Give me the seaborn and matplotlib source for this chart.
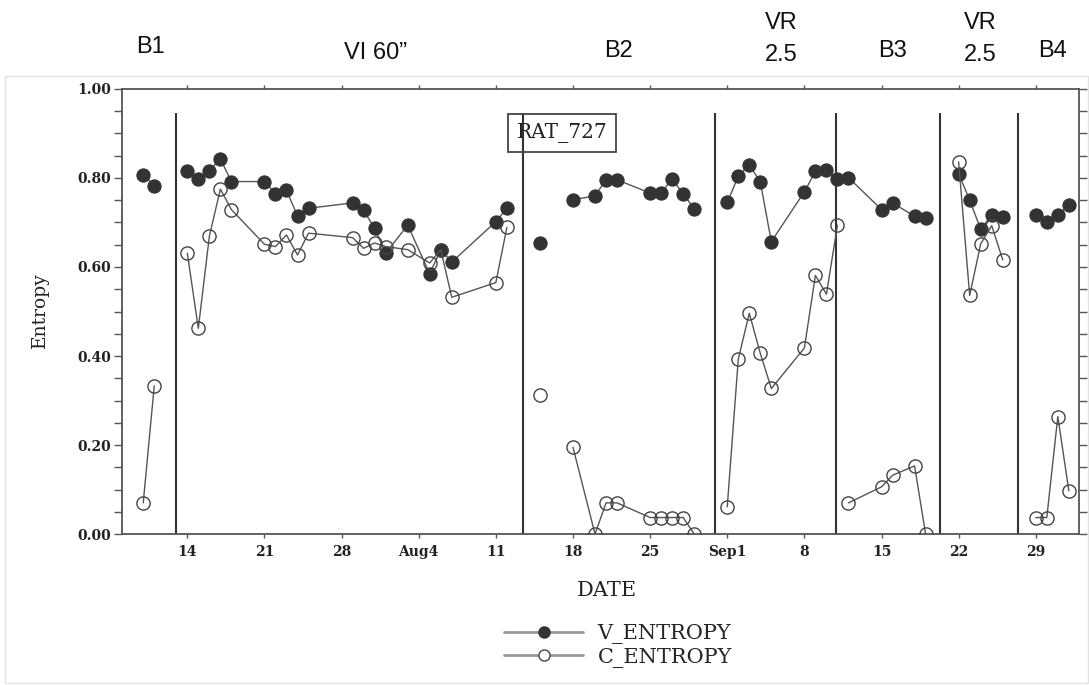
import numpy as np
import pandas as pd
import matplotlib
matplotlib.use("Agg")
import matplotlib.pyplot as plt
from matplotlib.lines import Line2D
from matplotlib.patches import Rectangle
import seaborn as sns

# ---- data (x = days since July 14) ----
days = [-4, -3,
        0, 1, 2, 3, 4, 7, 8, 9, 10, 11, 15, 16, 17, 18, 20, 22, 23, 24, 28, 29,
        32,
        35, 37, 38, 39, 42, 43, 44, 45, 46,
        49, 50, 51, 52, 53, 56, 57, 58, 59,
        60, 63, 64, 66, 67,
        70, 71, 72, 73, 74,
        77, 78, 79, 80]
segment = [0, 0,
           1, 1, 1, 1, 1, 1, 1, 1, 1, 1, 1, 1, 1, 1, 1, 1, 1, 1, 1, 1,
           2,
           3, 3, 3, 3, 3, 3, 3, 3, 3,
           4, 4, 4, 4, 4, 4, 4, 4, 4,
           5, 5, 5, 5, 5,
           6, 6, 6, 6, 6,
           7, 7, 7, 7]
v_entropy = [0.807, 0.783,
             0.816, 0.797, 0.816, 0.843, 0.792, 0.792, 0.765, 0.772, 0.715, 0.732,
             0.744, 0.727, 0.687, 0.631, 0.694, 0.585, 0.639, 0.611, 0.702, 0.732,
             0.655,
             0.751, 0.760, 0.796, 0.796, 0.766, 0.766, 0.798, 0.764, 0.731,
             0.745, 0.804, 0.830, 0.791, 0.657, 0.769, 0.815, 0.817, 0.798,
             0.801, 0.729, 0.744, 0.714, 0.710,
             0.810, 0.750, 0.685, 0.717, 0.712,
             0.716, 0.700, 0.716, 0.739]
c_entropy = [0.070, 0.333,
             0.631, 0.462, 0.669, 0.775, 0.729, 0.651, 0.646, 0.672, 0.627, 0.676,
             0.666, 0.642, 0.654, 0.646, 0.639, 0.609, 0.639, 0.532, 0.565, 0.689,
             0.312,
             0.195, 0.000, 0.070, 0.070, 0.037, 0.037, 0.037, 0.037, 0.000,
             0.061, 0.393, 0.496, 0.406, 0.327, 0.418, 0.581, 0.539, 0.694,
             0.070, 0.106, 0.132, 0.153, 0.000,
             0.836, 0.536, 0.652, 0.693, 0.616,
             0.037, 0.037, 0.264, 0.097]

tick_days = [0, 7, 14, 21, 28, 35, 42, 49, 56, 63, 70, 77]
tick_labels = ["14", "21", "28", "Aug4", "11", "18", "25", "Sep1", "8", "15", "22", "29"]
phase_lines = [-1.0, 30.5, 47.9, 58.9, 68.3, 75.4]
phase_names = ["B1", "VI 60\u201d", "B2", "VR", "2.5", "B3", "VR", "2.5", "B4"]

df = pd.DataFrame({"day": days, "seg": segment, "V": v_entropy, "C": c_entropy})

sns.set_style("ticks")
plt.rcParams["font.family"] = ["DejaVu Serif"]

fig = plt.figure(figsize=(10.89, 6.85), dpi=100)
fig.patches.append(Rectangle((0.0046, 0.003), 0.9945, 0.886, transform=fig.transFigure,
                             fill=False, edgecolor="#e2e2e2", linewidth=1.0, zorder=0))
ax = fig.add_axes([0.1120, 0.2204, 0.8788, 0.6497])

# phase boundary lines
ax.vlines(phase_lines, 0, 0.945, color="#333333", linewidth=1.5, zorder=1)

sns.lineplot(data=df, x="day", y="V", units="seg", estimator=None, ax=ax,
             color="#555555", linewidth=1.0, marker="o", markersize=9.5,
             markerfacecolor="#333333", markeredgecolor="#333333",
             markeredgewidth=0.8, zorder=3)
sns.lineplot(data=df, x="day", y="C", units="seg", estimator=None, ax=ax,
             color="#555555", linewidth=1.0, marker="o", markersize=9.5,
             markerfacecolor="none", markeredgecolor="#444444",
             markeredgewidth=1.0, zorder=4)

ax.set_xlim(-5.93, 80.92)
ax.set_ylim(0, 1.0)
ax.set_xticks(tick_days)
ax.set_xticklabels(tick_labels)
ax.set_xticks([21, 49], minor=True)
ax.set_yticks(np.arange(0, 1.01, 0.2))
ax.set_yticklabels([f"{v:.2f}" for v in np.arange(0, 1.01, 0.2)])
ax.set_yticks(np.arange(0, 1.001, 0.05), minor=True)
ax.set_xlabel("")
ax.set_ylabel("")

for s in ax.spines.values():
    s.set_color("#555555")
    s.set_linewidth(1.3)
    s.set_visible(True)

ax.tick_params(axis="y", which="both", left=True, right=True, direction="out",
               length=5.5, width=1.0, color="#555555", pad=2.5)
ax.tick_params(axis="y", which="major", labelsize=10, labelcolor="#222222")
ax.tick_params(axis="x", which="major", bottom=True, top=True, direction="out",
               length=3, width=1.0, color="#555555", pad=5, labelsize=10,
               labelcolor="#222222")
ax.tick_params(axis="x", which="minor", bottom=True, top=False, direction="inout",
               length=9, width=1.0, color="#555555")
for lab in ax.get_xticklabels() + ax.get_yticklabels():
    lab.set_fontweight("bold")

# box label
ax.text(34.0, 0.902, "RAT_727", ha="center", va="center", fontsize=14.5, color="#222222",
        bbox=dict(boxstyle="square,pad=0.45", facecolor="none", edgecolor="#444444",
                  linewidth=1.3), zorder=5)

# axis labels
fig.text(40 / 1089, 1 - 310 / 685, "Entropy", rotation=90, ha="center", va="center",
         fontsize=13.5, color="#222222")
fig.text(607 / 1089, 1 - 591 / 685, "DATE", ha="center", va="center",
         fontsize=15, color="#222222")

# phase names above the plot
name_pos = [(150, 53), (375, 59), (618, 57), (781, 29), (781, 61),
            (892.5, 57), (980.5, 29), (980.5, 61), (1052.5, 57)]
for name, (px, py) in zip(phase_names, name_pos):
    fig.text(px / 1089, 1 - py / 685, name, ha="center", va="baseline",
             fontsize=17, family=["Liberation Sans", "DejaVu Sans"], color="#111111")

# legend
handles = [
    Line2D([], [], color="#999999", linewidth=2.0, marker="o", markersize=8,
           markerfacecolor="#333333", markeredgecolor="#333333"),
    Line2D([], [], color="#999999", linewidth=2.0, marker="o", markersize=8,
           markerfacecolor="white", markeredgecolor="#444444"),
]
fig.legend(handles, ["V_ENTROPY", "C_ENTROPY"], loc="center",
           bbox_to_anchor=(618 / 1089, 1 - 646 / 685), frameon=False,
           prop={"family": "DejaVu Serif", "size": 15}, handlelength=3.8,
           handletextpad=0.7, labelspacing=0.15, borderpad=0)

fig.savefig("out.png", dpi=100)
